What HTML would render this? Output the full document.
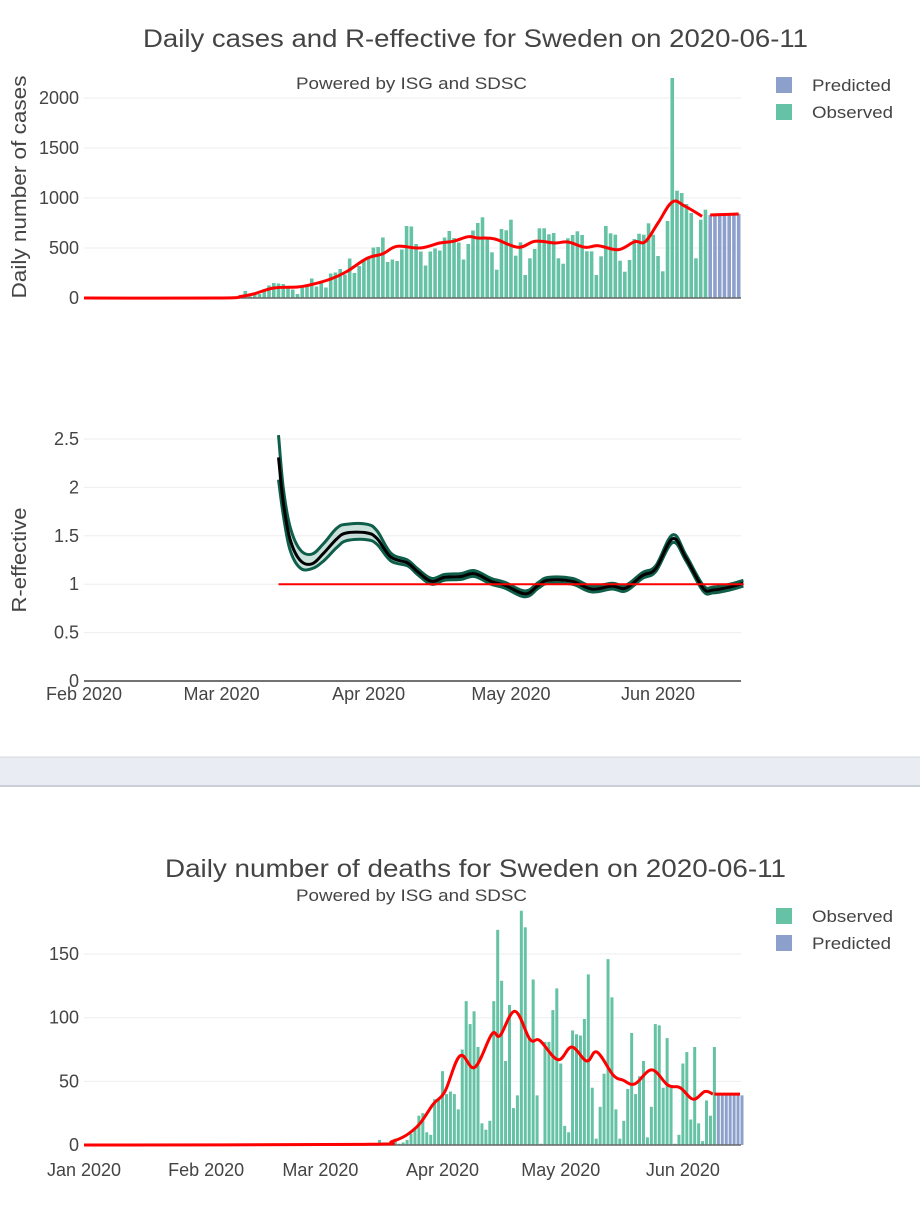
<!DOCTYPE html>
<html><head><meta charset="utf-8">
<style>
html,body{margin:0;padding:0;background:#fff;}
body{width:920px;height:1200px;overflow:hidden;font-family:"Liberation Sans",sans-serif;}
svg text{font-family:"Liberation Sans",sans-serif;fill:#444;}
</style></head>
<body>
<svg id="svg" width="920" height="1200" xmlns="http://www.w3.org/2000/svg">
  <rect x="0" y="757" width="920" height="29" fill="#e9ecf2"/>
  <line x1="0" y1="757" x2="920" y2="757" stroke="#d5d9e0"/>
  <line x1="0" y1="786" x2="920" y2="786" stroke="#c9ced8" stroke-width="2"/>

  <text x="143" y="47" font-size="25" textLength="665" lengthAdjust="spacingAndGlyphs">Daily cases and R-effective for Sweden on 2020-06-11</text>
  <text x="296" y="89" font-size="17" textLength="231" lengthAdjust="spacingAndGlyphs">Powered by ISG and SDSC</text>
  <rect x="776" y="77" width="16" height="16" fill="#8da0cb"/>
  <text x="812" y="91" font-size="17" textLength="79" lengthAdjust="spacingAndGlyphs">Predicted</text>
  <rect x="776" y="104" width="16" height="16" fill="#66c2a5"/>
  <text x="812" y="118" font-size="17" textLength="81" lengthAdjust="spacingAndGlyphs">Observed</text>
  <text transform="translate(26,187) rotate(-90)" font-size="20" text-anchor="middle" textLength="223" lengthAdjust="spacingAndGlyphs">Daily number of cases</text>
  <text transform="translate(26,560) rotate(-90)" font-size="20" text-anchor="middle" textLength="105" lengthAdjust="spacingAndGlyphs">R-effective</text>

  <text x="165" y="877" font-size="25" textLength="621" lengthAdjust="spacingAndGlyphs">Daily number of deaths for Sweden on 2020-06-11</text>
  <text x="296" y="901" font-size="17" textLength="231" lengthAdjust="spacingAndGlyphs">Powered by ISG and SDSC</text>
  <rect x="776" y="908" width="16" height="16" fill="#66c2a5"/>
  <text x="812" y="922" font-size="17" textLength="81" lengthAdjust="spacingAndGlyphs">Observed</text>
  <rect x="776" y="935" width="16" height="16" fill="#8da0cb"/>
  <text x="812" y="949" font-size="17" textLength="79" lengthAdjust="spacingAndGlyphs">Predicted</text>
  <g id="g"></g>
</svg>
<script>
// ---- cases data (day index from 2020-02-01) ----
const casesStartDay = 30;
const casesObserved = [10,10,15,15,70,15,35,40,75,125,150,145,140,100,85,40,110,125,195,115,150,105,245,255,290,235,395,250,320,380,415,505,510,605,360,385,370,485,720,715,540,465,325,465,495,475,605,670,600,555,385,540,675,750,807,600,457,283,690,677,783,423,557,230,397,490,697,697,637,650,397,343,597,630,667,630,467,467,230,417,720,647,633,373,263,380,590,643,633,747,633,420,267,770,2200,1073,1050,940,850,397,783,883];
const casesPredicted = [830,830,835,835,838,840,840];
const casesTrendDays = [0,28.7,33,35.7,40,45,48,52,55.4,59.6,63,66,70.8,75,77.8,81,83,86.6,91.5,95.1,99.3,102,105.6,108.4,112.6,116.1,118.3,121,124,126.7,130.3];
const casesTrendVals = [0,0,15,40,100,110,135,190,265,395,443,517,500,550,567,613,600,590,507,567,550,560,507,523,483,563,563,750,960,917,817];
const casesPredTrendDays = [132,135,138];
const casesPredTrendVals = [830,835,840];
const casesTicks = [0,500,1000,1500,2000];
// ---- R-effective ----
const rDays = [41,42,43.4,45.5,48,50.5,53.3,55.4,59.6,61.8,64.7,68.2,70.3,73.2,76,79.5,82.3,85.8,88.7,93,95.8,97.9,102.9,107,111.3,114.2,117.7,120.5,124.1,126.9,130.5,132.6,136.1,139];
const rMean = [2.31,1.85,1.47,1.25,1.21,1.32,1.47,1.53,1.53,1.47,1.28,1.22,1.13,1.03,1.07,1.08,1.11,1.03,0.99,0.90,0.99,1.04,1.03,0.95,0.98,0.96,1.09,1.16,1.47,1.27,0.96,0.94,0.97,1.01];
const rUpper = [2.54,2.0,1.6,1.36,1.31,1.42,1.58,1.62,1.62,1.55,1.32,1.25,1.16,1.06,1.10,1.11,1.14,1.06,1.02,0.93,1.02,1.07,1.06,0.98,1.01,0.99,1.12,1.19,1.51,1.30,0.99,0.97,1.00,1.04];
const rLower = [2.08,1.72,1.36,1.17,1.16,1.24,1.38,1.45,1.46,1.41,1.24,1.19,1.10,1.00,1.04,1.05,1.08,1.00,0.96,0.87,0.96,1.01,1.00,0.92,0.95,0.93,1.06,1.13,1.43,1.24,0.93,0.91,0.94,0.98];
const rRefDays = [41,139];
const rRefVals = [1,1];
const rTicks = [0,0.5,1,1.5,2,2.5];
const rTickLabels = ["0","0.5","1","1.5","2","2.5"];
const topMonthDays = [0,29,60,90,121];
const topMonthLabels = ["Feb 2020","Mar 2020","Apr 2020","May 2020","Jun 2020"];
// ---- deaths (day index from 2020-01-01) ----
const deathsStartDay = 75;
const deathsObserved = [4,2,1,1,5,1,2,4,9,13,23,25,10,8,36,36,58,40,42,40,28,75,113,95,105,77,17,12,19,113,169,129,66,110,29,39,184,171,84,130,39,1,81,81,106,123,64,15,10,90,87,86,99,134,45,5,30,56,146,116,28,5,19,44,88,40,54,66,6,30,95,94,45,84,45,1,8,64,73,20,77,17,3,35,23,77];
const deathsPredicted = [39,39,39,39,39,39,39];
const deathsTrendDays = [0,70,78.4,84.4,88.6,91.6,95.4,99.2,103.5,105.6,109.4,113.2,115.7,120.3,123.8,127.6,130.2,134.3,136.8,139.8,144.1,148.2,151.3,154.6,157.6,159.6];
const deathsTrendVals = [0,0.5,3,14,32,42,70,61,87,86,105,83,82,67,77,66,73,55,51,48,59,47,45,36,42,40];
const deathsPredTrendDays = [160,166.5];
const deathsPredTrendVals = [40,40];
const deathsTicks = [0,50,100,150];
const botMonthDays = [0,31,60,91,121,152];
const botMonthLabels = ["Jan 2020","Feb 2020","Mar 2020","Apr 2020","May 2020","Jun 2020"];

// ---- axes ----
const X0=84, X1=741;
const xTop = d => 84 + d*4.744;
const yCases = v => 298 - v*0.1;
const yR = v => 681 - v*96.8;
const xBot = d => 84 + d*3.94;
const yDeaths = v => 1145 - v*1.273;

const NS="http://www.w3.org/2000/svg";
const G=document.getElementById('g');
function mk(tag,attrs,parent){const e=document.createElementNS(NS,tag);for(const k in attrs)e.setAttribute(k,attrs[k]);(parent||G).appendChild(e);return e;}
function smooth(pts){
  if(pts.length<2)return '';
  let d='M'+pts[0][0].toFixed(1)+','+pts[0][1].toFixed(1);
  for(let i=0;i<pts.length-1;i++){
    const p0=pts[Math.max(i-1,0)],p1=pts[i],p2=pts[i+1],p3=pts[Math.min(i+2,pts.length-1)];
    const t=0.18;
    const c1=[p1[0]+(p2[0]-p0[0])*t,p1[1]+(p2[1]-p0[1])*t];
    const c2=[p2[0]-(p3[0]-p1[0])*t,p2[1]-(p3[1]-p1[1])*t];
    d+='C'+c1[0].toFixed(1)+','+c1[1].toFixed(1)+' '+c2[0].toFixed(1)+','+c2[1].toFixed(1)+' '+p2[0].toFixed(1)+','+p2[1].toFixed(1);
  }
  return d;
}
const TICK_FS=18;
casesTicks.forEach(v=>{
  if(v>0){const l=mk('line',{x1:X0,x2:X1,y1:yCases(v),y2:yCases(v),stroke:'#eee','stroke-width':1});
  
  }
  const t=mk('text',{x:79,y:yCases(v)+6,'font-size':TICK_FS,'text-anchor':'end'});t.textContent=v;
  
  
});
rTicks.forEach((v,i)=>{
  if(v>0){const l=mk('line',{x1:X0,x2:X1,y1:yR(v),y2:yR(v),stroke:'#eee','stroke-width':1});
  
  }
  const t=mk('text',{x:79,y:yR(v)+6,'font-size':TICK_FS,'text-anchor':'end'});t.textContent=rTickLabels[i];
  
  
});
deathsTicks.forEach(v=>{
  if(v>0){const l=mk('line',{x1:X0,x2:X1,y1:yDeaths(v),y2:yDeaths(v),stroke:'#eee','stroke-width':1});
  
  }
  const t=mk('text',{x:79,y:yDeaths(v)+6,'font-size':TICK_FS,'text-anchor':'end'});t.textContent=v;
  
  
});

casesObserved.forEach((v,i)=>{
  const x=xTop(casesStartDay+i);
  const r=mk('rect',{x:x-1.8,y:yCases(v),width:3.6,height:yCases(0)-yCases(v),fill:'#66c2a5'});
  
  
});
casesPredicted.forEach((v,i)=>{
  const x=xTop(casesStartDay+casesObserved.length+i);
  const r=mk('rect',{x:x-1.8,y:yCases(v),width:3.6,height:yCases(0)-yCases(v),fill:'#8da0cb'});
  
  
});
let zl=mk('line',{x1:X0,x2:X1,y1:298,y2:298,stroke:'#666','stroke-width':1.5});


let p=mk('path',{d:smooth(casesTrendDays.map((d,i)=>[xTop(d),yCases(casesTrendVals[i])])),fill:'none',stroke:'#ff0000','stroke-width':3});


p=mk('path',{d:smooth(casesPredTrendDays.map((d,i)=>[xTop(d),yCases(casesPredTrendVals[i])])),fill:'none',stroke:'#ff0000','stroke-width':3});



const up=rDays.map((d,i)=>[xTop(d),yR(rUpper[i])]);
const lo=rDays.map((d,i)=>[xTop(d),yR(rLower[i])]);
const loRev=lo.slice().reverse();
p=mk('path',{d:smooth(up)+' L'+loRev[0][0]+','+loRev[0][1]+smooth(loRev).replace(/^M[^C]*/,'')+'Z',fill:'rgba(20,120,90,0.22)',stroke:'none'});


p=mk('path',{d:smooth(up),fill:'none',stroke:'#0e5e4a','stroke-width':3});


p=mk('path',{d:smooth(lo),fill:'none',stroke:'#0e5e4a','stroke-width':3});


p=mk('path',{d:smooth(rDays.map((d,i)=>[xTop(d),yR(rMean[i])])),fill:'none',stroke:'#000','stroke-width':3});


p=mk('line',{x1:xTop(rRefDays[0]),x2:xTop(rRefDays[1]),y1:yR(rRefVals[0]),y2:yR(rRefVals[1]),stroke:'#ff0000','stroke-width':2});


p=mk('line',{x1:X0,x2:X1,y1:681,y2:681,stroke:'#444','stroke-width':1.5});


topMonthDays.forEach((d,i)=>{
  const t=mk('text',{x:xTop(d),y:700,'font-size':TICK_FS,'text-anchor':'middle'});t.textContent=topMonthLabels[i];
  
  
});

deathsObserved.forEach((v,i)=>{
  const x=xBot(deathsStartDay+i);
  const r=mk('rect',{x:x-1.5,y:yDeaths(v),width:3,height:yDeaths(0)-yDeaths(v),fill:'#66c2a5'});
  
  
});
deathsPredicted.forEach((v,i)=>{
  const x=xBot(deathsStartDay+deathsObserved.length+i);
  const r=mk('rect',{x:x-1.5,y:yDeaths(v),width:3,height:yDeaths(0)-yDeaths(v),fill:'#8da0cb'});
  
  
});
p=mk('line',{x1:X0,x2:X1,y1:1145,y2:1145,stroke:'#666','stroke-width':1.5});


p=mk('path',{d:smooth(deathsTrendDays.map((d,i)=>[xBot(d),yDeaths(deathsTrendVals[i])])),fill:'none',stroke:'#ff0000','stroke-width':3});


p=mk('path',{d:smooth(deathsPredTrendDays.map((d,i)=>[xBot(d),yDeaths(deathsPredTrendVals[i])])),fill:'none',stroke:'#ff0000','stroke-width':3});


botMonthDays.forEach((d,i)=>{
  const t=mk('text',{x:xBot(d),y:1176,'font-size':TICK_FS,'text-anchor':'middle'});t.textContent=botMonthLabels[i];
  
  
});
</script>
</body></html>
